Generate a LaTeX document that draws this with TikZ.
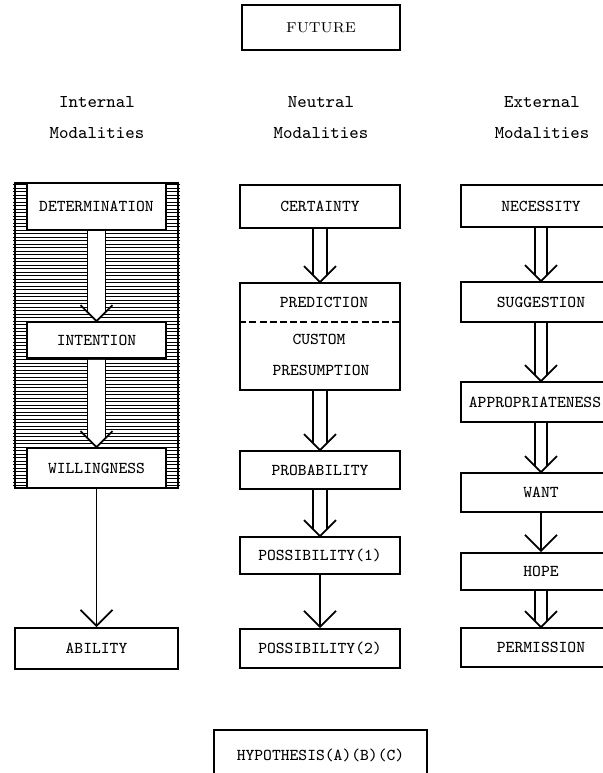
\documentclass[tikz,border=0pt]{standalone}
\usepackage{tikz}
\usetikzlibrary{arrows.meta}

\newcommand{\boxfont}{\fontsize{8.3}{10}\selectfont\ttfamily}
\newcommand{\headfont}{\fontsize{9}{15.5}\selectfont\ttfamily}
% white double shaft with an open head: from, to, half gap
\newcommand{\twinarrow}[3]{%
  \fill[white] ([xshift=-#3,yshift=-0.5pt]#1.south) -- ([xshift=-#3,yshift=#3]#2.north)
    -- (#2.north) -- ([xshift=#3,yshift=#3]#2.north) -- ([xshift=#3,yshift=-0.5pt]#1.south) -- cycle;
  \draw ([xshift=-#3]#1.south) -- ([xshift=-#3,yshift=#3]#2.north);
  \draw ([xshift=#3]#1.south) -- ([xshift=#3,yshift=#3]#2.north);
  \draw ([xshift=-8pt,yshift=8pt]#2.north) -- (#2.north) -- ([xshift=8pt,yshift=8pt]#2.north);
}

\tikzset{
  box/.style={draw, fill=white, inner sep=0pt, font=\boxfont},
  hatchline/.style={line width=0.5pt},
  onearrow/.style={-{Straight Barb[length=8pt,width=16pt]}},
}

\begin{document}
\begin{tikzpicture}[x=0.5pt, y=-0.5pt, line width=0.9pt]
\useasboundingbox (0,0) rectangle (603,773);
\clip (0,0) rectangle (603,773);

% Title
\node[box, minimum width=79pt, minimum height=22.5pt, font=\rmfamily\fontsize{7.2}{8}\selectfont] (future) at (321,27.5) {FUTURE};

% Column heads
\node[font=\headfont, align=center] (inthead) at (97,118) {Internal\\Modalities};
\node[font=\headfont, align=center] (neuhead) at (321,118) {Neutral\\Modalities};
\node[font=\headfont, align=center] (exthead) at (542,118) {External\\Modalities};

% Hatching of the internal column
\foreach \y in {184.5,188,...,487} \draw[hatchline] (13,\y) -- (180,\y);
\draw (15,183) rectangle (178,488);

% Internal modalities
\node[box, minimum width=69.5pt, minimum height=23.5pt] (det) at (96.5,206.5) {DETERMINATION};
\node[box, minimum width=69.5pt, minimum height=18pt] (int) at (96.5,340) {INTENTION};
\node[box, minimum width=69.5pt, minimum height=20pt] (will) at (96.5,468) {WILLINGNESS};
\node[box, minimum width=81.5pt, minimum height=20.5pt] (abil) at (96.5,648.5) {ABILITY};

% Neutral modalities
\node[box, minimum width=80pt, minimum height=21.5pt] (cert) at (320,206.5) {CERTAINTY};
\node[box, minimum width=80pt, minimum height=53.5pt] (pred) at (320,336.5) {};
\draw[dash pattern=on 3.5pt off 1.6pt] ([yshift=7.25pt]pred.west) -- ([yshift=7.25pt]pred.east);
\node[font=\boxfont] (predtxt) at (324,302) {PREDICTION};
\node[font=\boxfont] (custtxt) at (319,339) {CUSTOM};
\node[font=\boxfont] (prestxt) at (321,370) {PRESUMPTION};
\node[box, minimum width=80pt, minimum height=19pt] (prob) at (320,470) {PROBABILITY};
\node[box, minimum width=80pt, minimum height=18.5pt] (poss1) at (320,555.5) {POSSIBILITY(1)};
\node[box, minimum width=80pt, minimum height=19.5pt] (poss2) at (320,648.5) {POSSIBILITY(2)};

% External modalities
\node[box, minimum width=80pt, minimum height=21pt] (nec) at (541,206) {NECESSITY};
\node[box, minimum width=80pt, minimum height=20pt] (sugg) at (541,302) {SUGGESTION};
\node[box, minimum width=80pt, minimum height=20pt] (appr) at (541,402) {APPROPRIATENESS\hspace*{6pt}};
\node[box, minimum width=80pt, minimum height=19.5pt] (want) at (541,492.5) {WANT};
\node[box, minimum width=80pt, minimum height=18.5pt] (hope) at (541,571.5) {HOPE};
\node[box, minimum width=80pt, minimum height=19.5pt] (perm) at (541,647.5) {PERMISSION};

% Bottom
\node[box, minimum width=106.5pt, minimum height=25pt] (hyp) at (320.5,755) {HYPOTHESIS(A)(B)(C)};

% Arrows
\twinarrow{det}{int}{4.5pt}
\twinarrow{int}{will}{4.5pt}
\draw[onearrow] (will) -- (abil);

\twinarrow{cert}{pred}{3.5pt}
\twinarrow{pred}{prob}{3.5pt}
\twinarrow{prob}{poss1}{3.5pt}
\draw[onearrow] (poss1) -- (poss2);

\twinarrow{nec}{sugg}{3pt}
\twinarrow{sugg}{appr}{3pt}
\twinarrow{appr}{want}{3pt}
\draw[onearrow] (want) -- (hope);
\twinarrow{hope}{perm}{3pt}
\end{tikzpicture}
\end{document}
